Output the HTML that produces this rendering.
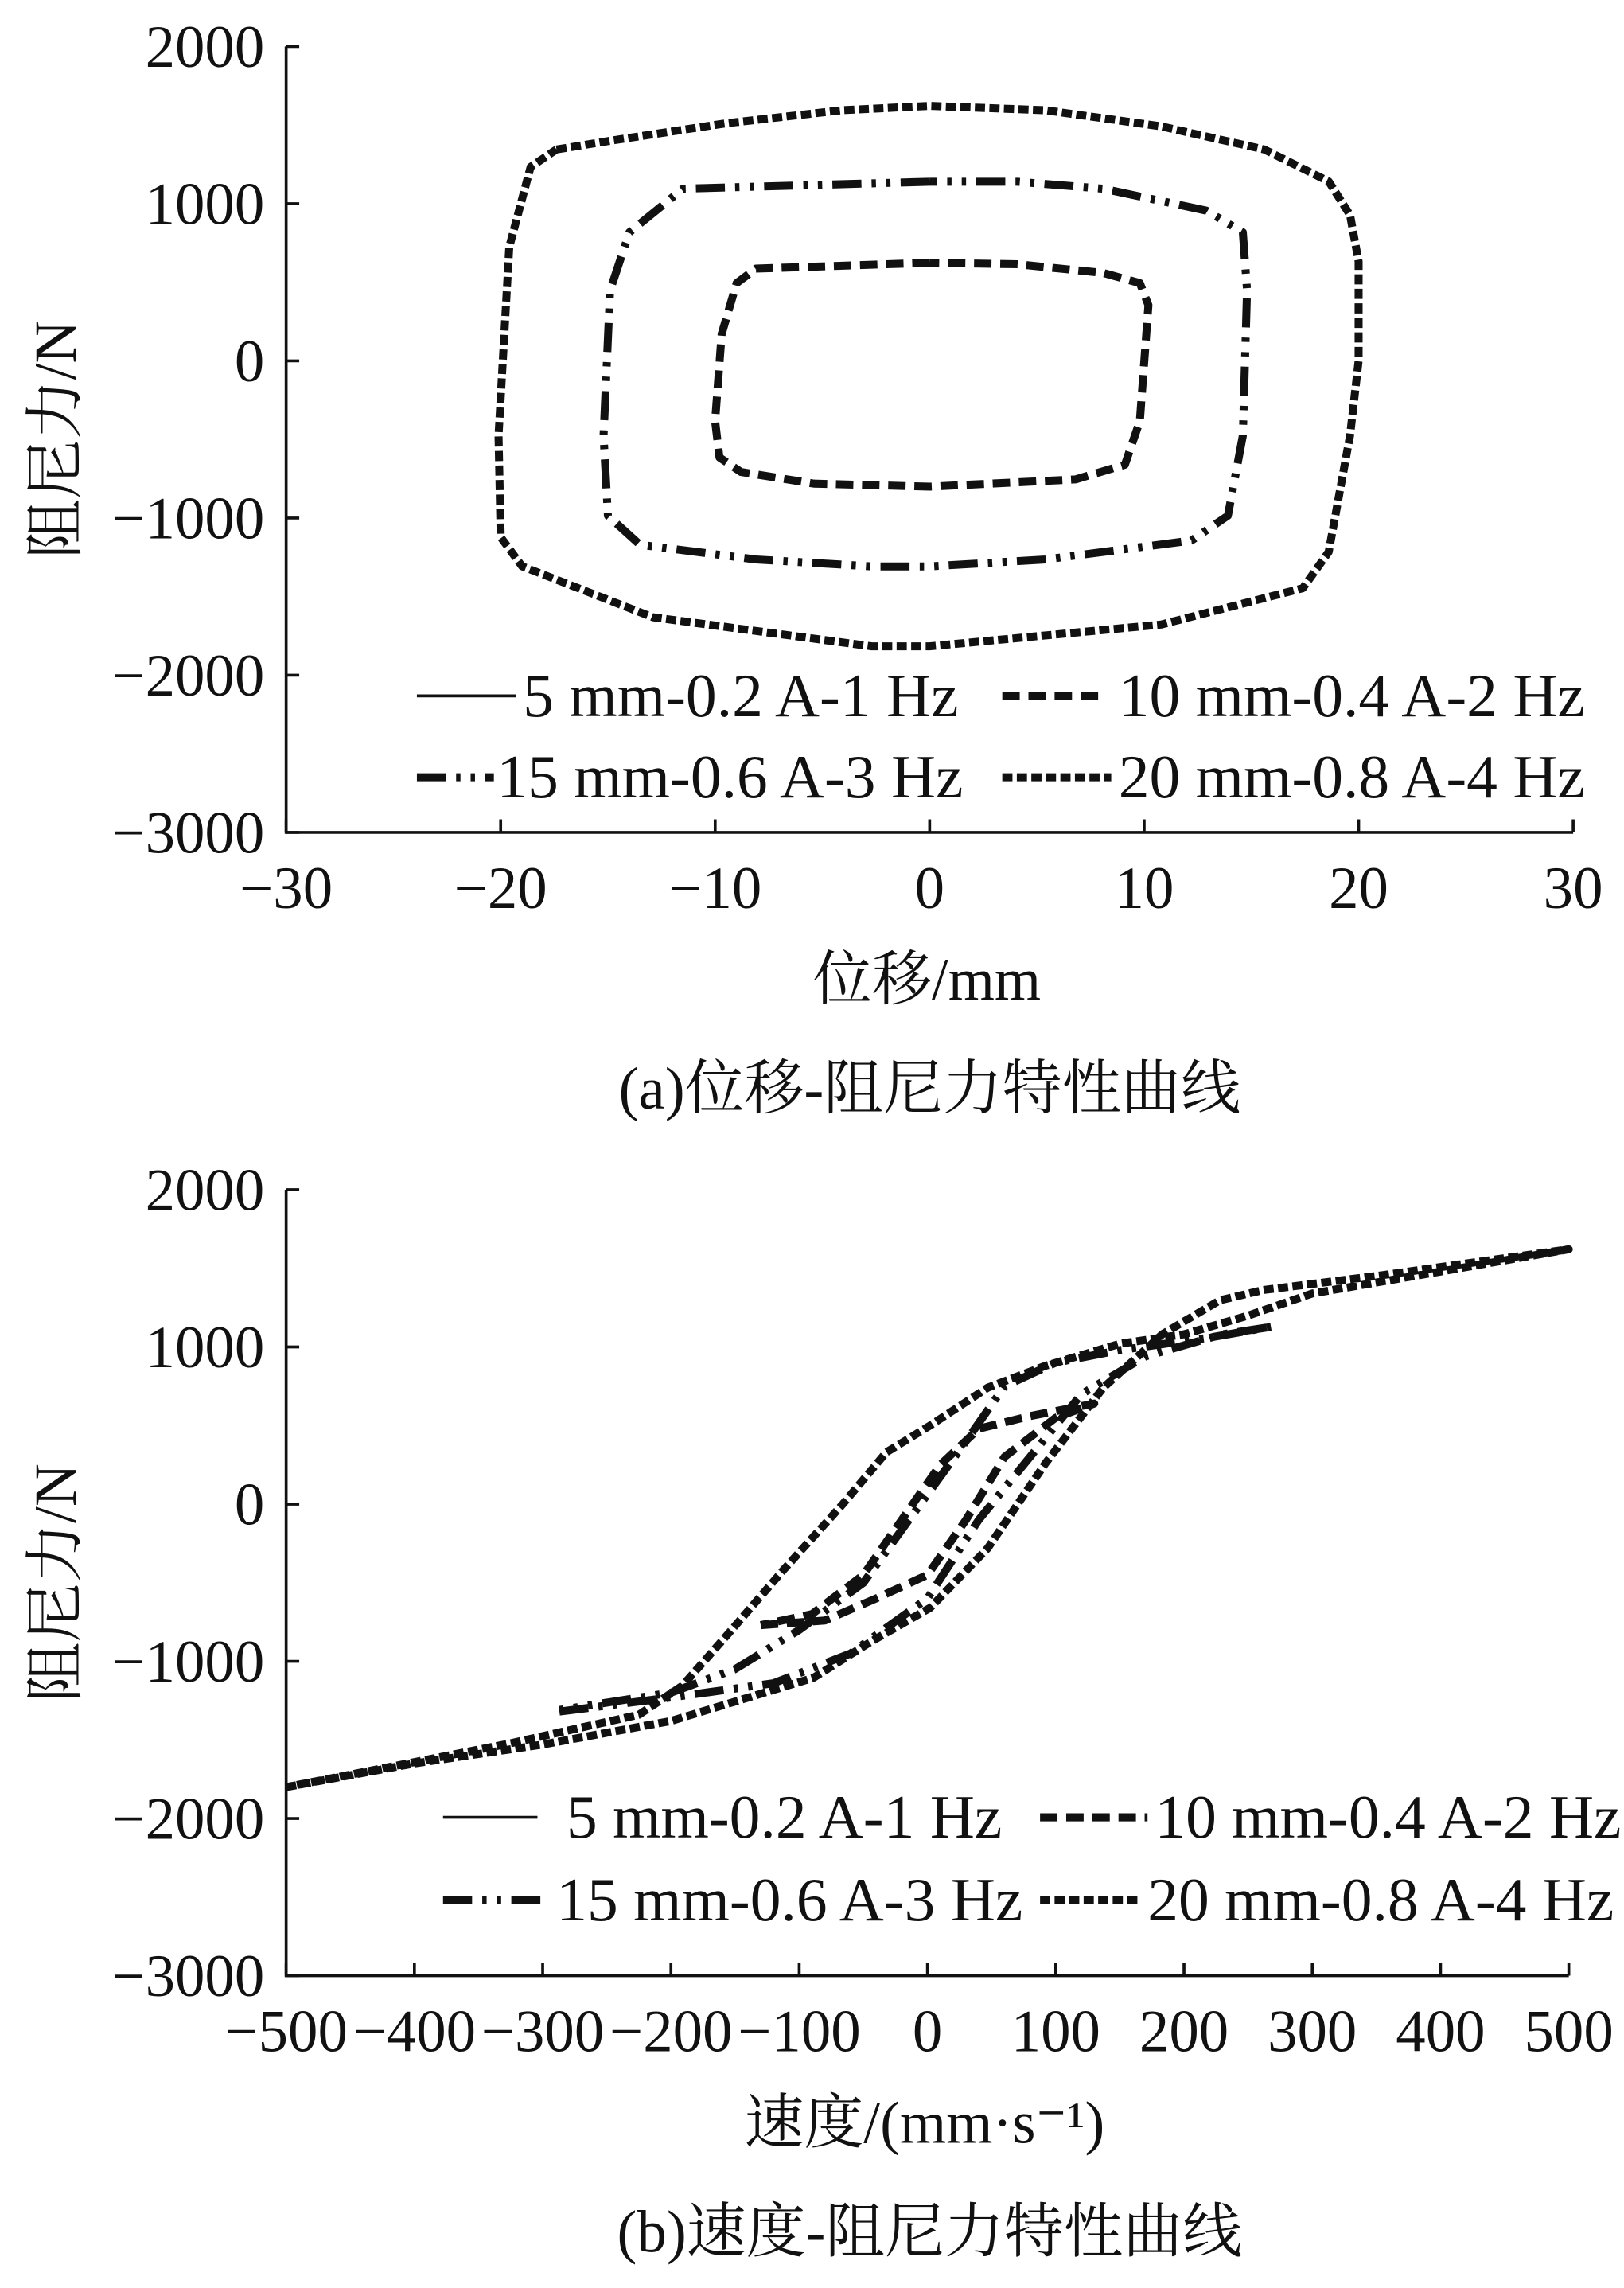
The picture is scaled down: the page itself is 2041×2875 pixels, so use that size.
<!DOCTYPE html>
<html><head><meta charset="utf-8"><style>
html,body{margin:0;padding:0;background:#fff}
svg{display:block}
text{font-family:"Liberation Serif","Noto Serif CJK SC",serif;fill:#111}
</style></head><body>
<svg id="svg" xmlns="http://www.w3.org/2000/svg" width="2041" height="2875" viewBox="0 0 1118 1575" preserveAspectRatio="none"></svg>
<script>
// ---- Chart (a) data: displacement (mm) vs force (N)
const aLoop10x=[0,-8.1,-9,-9.7,-10,-9.8,-8.8,-5.4,0,6.8,9.1,9.8,10.2,9.8,8.1,4.1,0];
const aLoop10y=[624,587,494,170,-384,-615,-707,-781,-800,-754,-661,-384,355,494,559,615,624];
const aLoop15x=[0,-11.5,-14,-14.9,-15.2,-15,-13.5,-8.1,-2.7,0,5.4,12.2,13.9,14.6,14.8,14.6,12.9,8.1,4.1,0];
const aLoop15y=[1140,1095,818,448,-476,-985,-1170,-1263,-1308,-1308,-1263,-1143,-985,-476,448,818,956,1095,1140,1140];
const aLoop20x=[-17.4,-14.9,-9.5,-4.1,0,5.4,10.8,15.6,18.6,19.6,20,20,19.6,18.6,17.4,10.8,0,-2.7,-12.9,-19,-20,-20.1,-19.6,-18.6,-17.4];
const aLoop20y=[1345,1400,1511,1594,1622,1594,1492,1345,1141,928,632,0,-475,-1215,-1446,-1677,-1816,-1816,-1631,-1307,-1122,-476,725,1234,1345];
const aXTicks=[-30,-20,-10,0,10,20,30];
const aYTicks=[2000,1000,0,-1000,-2000,-3000];
// ---- Chart (b) data: velocity (mm/s) vs force (N)
const b10x=[-130,-80,-40,0,30,60,100,130,80,40,10,-20,-50,-90,-130];
const b10y=[-770,-740,-600,-450,-100,300,550,640,560,480,250,-100,-450,-700,-770];
const b15x=[-287,-200,-120,-60,0,40,80,120,170,230,270,220,150,100,60,30,-10,-50,-100,-150,-200,-287];
const b15y=[-1320,-1230,-1140,-950,-600,-100,300,700,940,1080,1130,1060,980,900,750,400,-50,-500,-800,-1050,-1200,-1310];
const b20x=[-500,-400,-300,-200,-89,-44,2,47,92,137,183,228,262,353,500,400,300,250,200,150,92,47,2,-32,-66,-112,-157,-191,-225,-327,-500];
const b20y=[-1800,-1650,-1530,-1380,-1105,-875,-660,-280,260,740,1080,1297,1362,1455,1621,1480,1340,1200,1080,1020,880,741,500,330,0,-416,-840,-1155,-1340,-1525,-1800];
const bXTicks=[-500,-400,-300,-200,-100,0,100,200,300,400,500];
const bYTicks=[2000,1000,0,-1000,-2000,-3000];

const NS='http://www.w3.org/2000/svg';
const svg=document.getElementById('svg');
function mk(tag,attrs,parent,txt){const e=document.createElementNS(NS,tag);for(const k in attrs)e.setAttribute(k,attrs[k]);if(txt!==undefined)e.textContent=txt;(parent||svg).appendChild(e);return e;}
const styles={
 s5:{dash:'none',w:2},
 s10:{dash:'12 6',w:5.5},
 s15:{dash:'20 7 3 7 3 7',w:5.5},
 s20:{dash:'7 3',w:5.5}
};
function chart(cfg){
 const g=mk('g',{});
 
 
 const X0=197,X1=cfg.xr,Y0=cfg.yt,Y1=cfg.yb;
 const sx=v=>X0+(v-cfg.xmin)/(cfg.xmax-cfg.xmin)*(X1-X0);
 const sy=v=>Y1-(v-cfg.ymin)/(cfg.ymax-cfg.ymin)*(Y1-Y0);
 const ax=mk('path',{d:`M${X0} ${Y0}L${X0} ${Y1}L${X1} ${Y1}`,stroke:'#111','stroke-width':2,fill:'none'},g);
 
 cfg.yt_.forEach(v=>{const y=sy(v);mk('line',{x1:X0,x2:X0+9,y1:y,y2:y,stroke:'#111','stroke-width':2},g);
  const t=mk('text',{x:182,y:y+14,'text-anchor':'end','font-size':41},g,v<0?'−'+(-v):String(v));
  });
 cfg.xt_.forEach(v=>{const x=sx(v);mk('line',{x1:x,x2:x,y1:Y1,y2:Y1-9,stroke:'#111','stroke-width':2},g);
  const t=mk('text',{x:x,y:Y1+52,'text-anchor':'middle','font-size':41},g,v<0?'−'+(-v):String(v));
  });
 const yt=mk('text',{x:0,y:0,transform:`translate(52 ${(Y0+Y1)/2}) rotate(-90)`,'text-anchor':'middle','font-size':41},g,'阻尼力/N');
 
 const xt=mk('text',{x:(X0+X1)/2-2,y:Y1+115,'text-anchor':'middle','font-size':41},g,cfg.xtitle);
 
 const cap=mk('text',{x:640,y:Y1+190,'text-anchor':'middle','font-size':41},g,cfg.caption);
 
 cfg.series.forEach(s=>{const st=styles[s.style];
  const d=s.x.map((v,i)=>(i?'L':'M')+sx(v).toFixed(1)+' '+sy(s.y[i]).toFixed(1)).join('');
  const p=mk('path',{d:d,fill:'none',stroke:'#111','stroke-width':st.w,'stroke-dasharray':st.dash,'stroke-linejoin':'round'},g);
  });
 const lg=mk('g',{},g);
 cfg.legend.forEach(e=>{const st=styles[e.style];
  mk('line',{x1:e.lx1,x2:e.lx2,y1:e.y,y2:e.y,stroke:'#111','stroke-width':st.w,'stroke-dasharray':st.dash},lg);
  const t=mk('text',{x:e.tx,y:e.y+14,'font-size':42.5},lg,e.label);
  });
}
chart({name:'chart-a',xr:1083,yt:32,yb:573,xmin:-30,xmax:30,ymin:-3000,ymax:2000,xt_:aXTicks,yt_:aYTicks,
 xtitle:'位移/mm',caption:'(a)位移-阻尼力特性曲线',
 series:[{name:'loop-10mm',style:'s10',x:aLoop10x,y:aLoop10y},{name:'loop-15mm',style:'s15',x:aLoop15x,y:aLoop15y},{name:'loop-20mm',style:'s20',x:aLoop20x,y:aLoop20y}],
 legend:[{style:'s5',lx1:287,lx2:355,tx:360,y:479,label:'5 mm-0.2 A-1 Hz'},{style:'s10',lx1:690,lx2:762,tx:770,y:479,label:'10 mm-0.4 A-2 Hz'},
  {style:'s15',lx1:287,lx2:340,tx:342,y:535,label:'15 mm-0.6 A-3 Hz'},{style:'s20',lx1:690,lx2:765,tx:770,y:535,label:'20 mm-0.8 A-4 Hz'}]});
chart({name:'chart-b',xr:1080,yt:819,yb:1360,xmin:-500,xmax:500,ymin:-3000,ymax:2000,xt_:bXTicks,yt_:bYTicks,
 xtitle:'速度/(mm·s⁻¹)',caption:'(b)速度-阻尼力特性曲线',
 series:[{name:'curve-10mm',style:'s10',x:b10x,y:b10y},{name:'curve-15mm',style:'s15',x:b15x,y:b15y},{name:'curve-20mm',style:'s20',x:b20x,y:b20y}],
 legend:[{style:'s5',lx1:305,lx2:370,tx:390,y:1251,label:'5 mm-0.2 A-1 Hz'},{style:'s10',lx1:716,lx2:790,tx:795,y:1251,label:'10 mm-0.4 A-2 Hz'},
  {style:'s15',lx1:305,lx2:378,tx:383,y:1308,label:'15 mm-0.6 A-3 Hz'},{style:'s20',lx1:716,lx2:785,tx:790,y:1308,label:'20 mm-0.8 A-4 Hz'}]});
</script>
</body></html>
